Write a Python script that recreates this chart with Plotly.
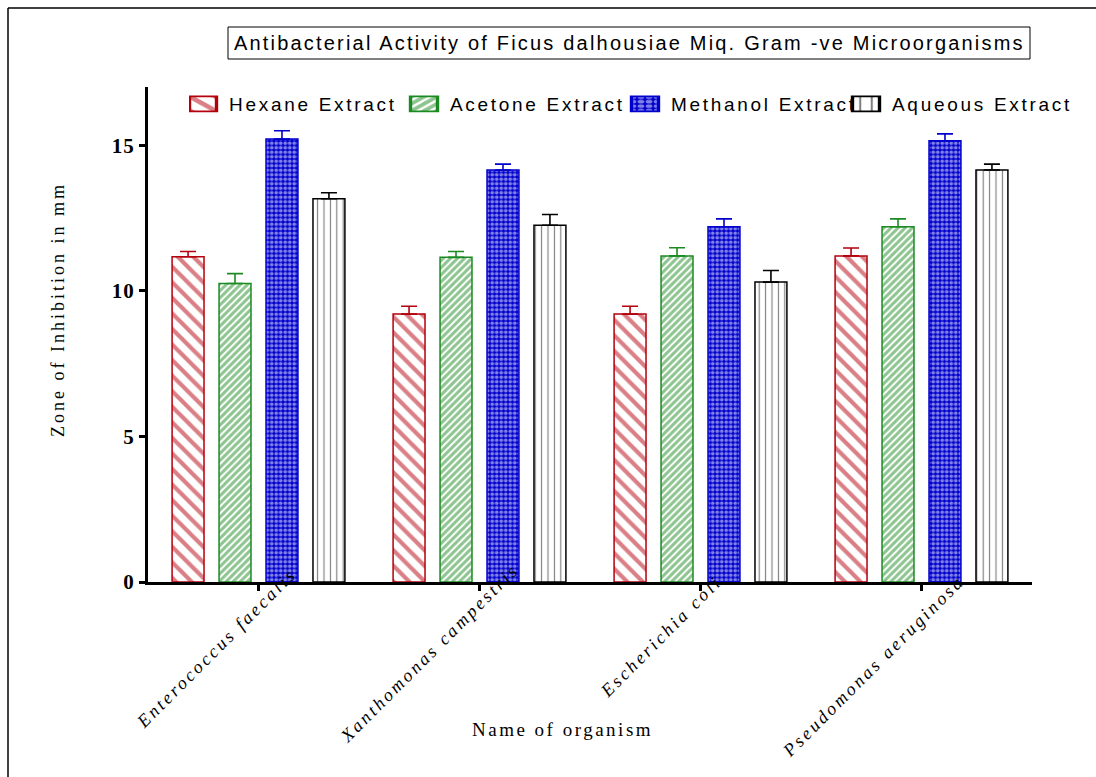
import plotly.graph_objects as go

# Zone of inhibition (mm) against Gram -ve organisms, mean and SD
organisms = ["Enterococcus faecalis", "Xanthomonas campestris",
             "Escherichia coli", "Pseudomonas aeruginosa"]
series_names = ["Hexane Extract", "Acetone Extract", "Methanol Extract", "Aqueous Extract"]

hexane = [11.17, 9.2, 9.2, 11.2]
hexane_sd = [0.18, 0.27, 0.27, 0.27]
acetone = [10.25, 11.15, 11.2, 12.2]
acetone_sd = [0.34, 0.2, 0.28, 0.27]
methanol = [15.21, 14.15, 12.2, 15.15]
methanol_sd = [0.29, 0.2, 0.27, 0.24]
aqueous = [13.16, 12.25, 10.3, 14.15]
aqueous_sd = [0.21, 0.37, 0.4, 0.2]

y_ticks = [0, 5, 10, 15]

SERIF = "Liberation Serif"
SANS = "Liberation Sans"

# pattern styles per extract
styles = [
    dict(line="#B4000C", pattern=dict(shape="\\", fgcolor="#B4000C", bgcolor="white", size=11, solidity=0.38)),
    dict(line="#1C8A22", pattern=dict(shape="/", fgcolor="#1C8A22", bgcolor="white", size=5, solidity=0.6)),
    dict(line="#0000CC", pattern=dict(shape=".", fgcolor="white", bgcolor="#0000CC", size=4.5, solidity=0.55)),
    dict(line="#000000", pattern=dict(shape="|", fgcolor="#000000", bgcolor="white", size=6.4, solidity=0.18)),
]

values = [hexane, acetone, methanol, aqueous]
errors = [hexane_sd, acetone_sd, methanol_sd, aqueous_sd]

fig = go.Figure()
for name, vals, sd, st in zip(series_names, values, errors, styles):
    fig.add_trace(go.Bar(
        name=name,
        x=organisms,
        y=vals,
        marker=dict(color="white", line=dict(color=st["line"], width=1.5),
                    pattern=st["pattern"]),
        error_y=dict(type="data", array=sd, arrayminus=[0] * len(sd), symmetric=False,
                     color=st["line"], thickness=1.6, width=8),
    ))

# geometry of the plotting area (px) used for paper-coordinate placement
L, T, W, H = 148, 87, 884, 495


def px_x(px):
    return (px - L) / W


def px_y(py):
    return (T + H - py) / H


annotations = [
    dict(text="Antibacterial Activity of Ficus dalhousiae Miq. Gram -ve Microorganisms",
         xref="paper", yref="paper", x=px_x(629), y=px_y(43), xanchor="center", yanchor="middle",
         showarrow=False, font=dict(family=SANS, size=20, color="black")),
]

# rotated organism names under the category axis (label centre offsets in px)
label_offsets = [(-42, -66), (-50, -71), (-40, -55), (-48, -84)]
for org, (dx, dy) in zip(organisms, label_offsets):
    annotations.append(dict(
        text=org, xref="x", yref="paper", x=org, y=0, xshift=dx, yshift=dy,
        xanchor="center", yanchor="middle", textangle=-45, showarrow=False,
        font=dict(family=SERIF, size=18, style="italic", color="black")))

annotations.append(dict(text="Name of organism", xref="paper", yref="paper",
                        x=px_x(562), y=px_y(729), xanchor="center", yanchor="middle",
                        showarrow=False, font=dict(family=SERIF, size=19, color="black")))
annotations.append(dict(text="Zone of Inhibition in mm", xref="paper", yref="paper",
                        x=px_x(58), y=px_y(310), xanchor="center", yanchor="middle",
                        textangle=-90, showarrow=False,
                        font=dict(family=SERIF, size=18, color="black")))

shapes = [
    # title box
    dict(type="rect", xref="paper", yref="paper", x0=px_x(228), x1=px_x(1030),
         y0=px_y(59), y1=px_y(27), line=dict(color="black", width=1)),
    # outer frame (left and top edges)
    dict(type="line", xref="paper", yref="paper", x0=px_x(8), x1=px_x(8),
         y0=px_y(8), y1=px_y(800), line=dict(color="black", width=1.5)),
    dict(type="line", xref="paper", yref="paper", x0=px_x(8), x1=px_x(1120),
         y0=px_y(8), y1=px_y(8), line=dict(color="black", width=1.5)),
]

fig.update_layout(
    width=1096, height=777,
    margin=dict(l=L, r=1096 - L - W, t=T, b=777 - T - H),
    paper_bgcolor="white", plot_bgcolor="white",
    barmode="group", bargap=0.15, bargroupgap=0.32,
    font=dict(family=SANS, color="black"),
    showlegend=True,
    legend=dict(orientation="h", x=px_x(189), xanchor="left", y=px_y(104), yanchor="middle",
                font=dict(family=SANS, size=19, color="black"),
                entrywidth=176, entrywidthmode="pixels",
                bgcolor="rgba(0,0,0,0)", traceorder="normal"),
    xaxis=dict(range=[-0.5, 3.5], showticklabels=False, ticks="outside", ticklen=6, tickwidth=3,
               tickcolor="black", showline=True, linewidth=3, linecolor="black",
               showgrid=False, zeroline=False),
    yaxis=dict(range=[0, 17], tickvals=y_ticks, ticks="outside", ticklen=6, tickwidth=3,
               tickcolor="black", showline=True, linewidth=3, linecolor="black",
               showgrid=False, zeroline=False,
               tickfont=dict(family=SERIF, size=21, weight="bold", color="black")),
    annotations=annotations,
    shapes=shapes,
)

# letter spacing and legend swatch sizing, as in the original figure style
post = """
document.documentElement.style.overflow = 'hidden';
document.body.style.overflow = 'hidden';
document.body.style.margin = '0';
var css = document.createElement('style');
css.textContent = `
.annotation[data-index="0"] text { letter-spacing: 2.2px; }
.annotation[data-index="1"] text, .annotation[data-index="2"] text,
.annotation[data-index="3"] text, .annotation[data-index="4"] text { letter-spacing: 2.8px; }
.annotation[data-index="5"] text { letter-spacing: 2.5px; }
.annotation[data-index="6"] text { letter-spacing: 3px; }
.ytick text { letter-spacing: 1px; }
.legendtext { letter-spacing: 2.7px; }
.legendpoints path { transform: translate(14px, 0px) scale(2.25, 1.25); }
`;
document.head.appendChild(css);
"""

fig.write_html("out.html", post_script=post)
